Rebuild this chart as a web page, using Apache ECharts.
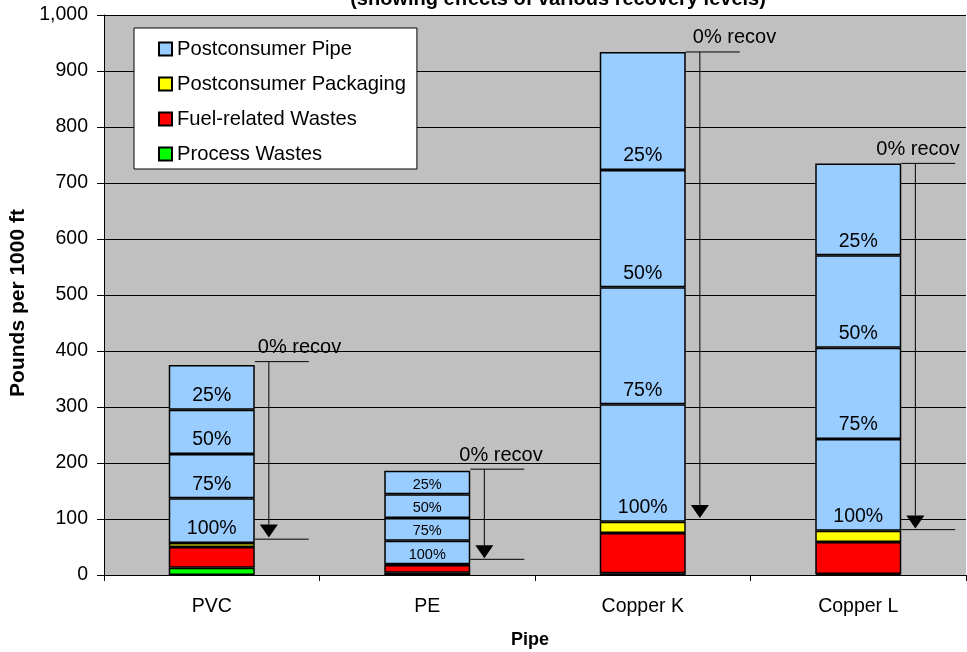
<!DOCTYPE html>
<html>
<head>
<meta charset="utf-8">
<script src="https://cdn.jsdelivr.net/npm/echarts@6/dist/echarts.min.js"></script>
<style>
html,body{margin:0;padding:0;background:#fff;}
#chart{width:967px;height:652px;}
</style>
</head>
<body>
<div id="chart"></div>
<script>
// ---- data ----
const categories = ['PVC', 'PE', 'Copper K', 'Copper L'];
const processWastes = [13, 4, 3, 2];
const fuelWastes = [37, 14, 72, 57];
const packaging = [7, 1, 20, 20];
// Postconsumer pipe split by recovery level (bottom to top)
const pipe100 = [80, 42, 210, 164];
const pipe75 = [79, 41, 209, 163];
const pipe50 = [79, 42, 209, 165];
const pipe25 = [80, 42, 211, 164];
const recovLabels = ['100%', '75%', '50%', '25%'];
// 0% recovery arrows
const arrowTop = [381, 189, 934, 735];
const arrowTip = [67, 30, 102, 83];
const baseLine = [64, 28, null, 81];
const yTicks = [0, 100, 200, 300, 400, 500, 600, 700, 800, 900, 1000];

// ---- layout / style ----
const FONT = '"Liberation Sans", Arial, sans-serif';
const FS = 19.5;
const recovTextShift = [3, -11, 7, -25]; // px, horizontal nudge of "0% recov" text

const chart = echarts.init(document.getElementById('chart'));

function pipeSeries(vals, lbl) {
  return {
    name: 'Postconsumer Pipe',
    type: 'bar',
    stack: 'total',
    barWidth: 86,
    itemStyle: { color: '#99ccff', borderColor: '#000', borderWidth: 1.5 },
    label: {
      show: true, position: 'insideBottom', distance: 4,
      formatter: lbl, color: '#000', fontSize: FS, fontFamily: FONT
    },
    data: vals.map((v, i) => i === 1 ? { value: v, label: { fontSize: 14.5, distance: 2 } } : v)
  };
}
function plainSeries(name, vals, color) {
  return {
    name: name, type: 'bar', stack: 'total', barWidth: 86,
    itemStyle: { color: color, borderColor: '#000', borderWidth: 1.5 },
    data: vals
  };
}

const arrowData = categories.map((c, i) => [i, arrowTop[i], arrowTip[i], baseLine[i] == null ? '-' : baseLine[i]]);

const option = {
  backgroundColor: '#fff',
  animation: false,
  textStyle: { fontFamily: FONT },
  graphic: [{
    type: 'text',
    x: 558, y: -1,
    style: {
      text: '(showing effects of various recovery levels)',
      align: 'center', verticalAlign: 'middle',
      fontSize: 20, fontWeight: 'bold', fontFamily: FONT, fill: '#000'
    }
  }],
  grid: {
    left: 104, right: 1, top: 15, bottom: 77, show: true,
    backgroundColor: '#c0c0c0', borderWidth: 0,
    containLabel: false, outerBoundsMode: 'none'
  },
  legend: {
    orient: 'vertical', left: 134, top: 28,
    data: ['Postconsumer Pipe', 'Postconsumer Packaging', 'Fuel-related Wastes', 'Process Wastes'],
    backgroundColor: '#fff', borderColor: '#000', borderWidth: 1,
    padding: [11, 11, 5, 24],
    itemWidth: 13, itemHeight: 13, itemGap: 15,
    icon: 'rect',
    textStyle: { fontSize: 20.2, fontFamily: FONT, color: '#000', lineHeight: 20 },
    selectedMode: false
  },
  xAxis: {
    type: 'category', data: categories,
    name: 'Pipe', nameLocation: 'middle', nameGap: 56,
    nameTextStyle: { fontSize: 18, fontWeight: 'bold', color: '#000', fontFamily: FONT, padding: [0, 10, 0, 0] },
    axisLine: { lineStyle: { color: '#000', width: 1 } },
    axisTick: { show: true, length: 6, lineStyle: { color: '#000' } },
    axisLabel: { color: '#000', fontSize: FS, fontFamily: FONT, margin: 22 }
  },
  yAxis: {
    type: 'value', min: 0, max: 1000, interval: 100,
    name: 'Pounds per 1000 ft', nameLocation: 'middle', nameGap: 74,
    nameTextStyle: { fontSize: 21, fontWeight: 'bold', color: '#000', fontFamily: FONT, padding: [0, 16, 0, 0] },
    axisLine: { show: true, lineStyle: { color: '#000', width: 1 } },
    axisTick: { show: true, length: 7, lineStyle: { color: '#000' } },
    axisLabel: {
      color: '#000', fontSize: FS, fontFamily: FONT, margin: 16,
      formatter: v => String(v).replace(/\B(?=(\d{3})+(?!\d))/g, ',')
    },
    splitLine: { show: true, lineStyle: { color: '#000', width: 1 } }
  },
  series: [
    plainSeries('Process Wastes', processWastes, '#00ff00'),
    plainSeries('Fuel-related Wastes', fuelWastes, '#ff0000'),
    plainSeries('Postconsumer Packaging', packaging, '#ffff00'),
    pipeSeries(pipe100, recovLabels[0]),
    pipeSeries(pipe75, recovLabels[1]),
    pipeSeries(pipe50, recovLabels[2]),
    pipeSeries(pipe25, recovLabels[3]),
    {
      type: 'custom',
      name: 'recov',
      silent: true,
      clip: false,
      encode: { x: 0, y: 1 },
      data: arrowData,
      renderItem: function (params, api) {
        const idx = api.value(0);
        const top = api.value(1), tip = api.value(2), base = api.value(3);
        const cw = api.size([1, 0])[0];
        const pTop = api.coord([idx, top]);
        const pTip = api.coord([idx, tip]);
        const cx = pTop[0];
        const ax = cx + cw * 0.265;
        const l0 = cx + cw * 0.2, l1 = cx + cw * 0.45;
        const headH = 13, headW = 9;
        const stroke = { stroke: '#000', lineWidth: 1 };
        const children = [
          { type: 'line', shape: { x1: l0, y1: pTop[1], x2: l1, y2: pTop[1] }, style: stroke },
          { type: 'line', shape: { x1: ax, y1: pTop[1], x2: ax, y2: pTip[1] - headH }, style: stroke },
          { type: 'polygon', shape: { points: [[ax - headW, pTip[1] - headH], [ax + headW, pTip[1] - headH], [ax, pTip[1]]] }, style: { fill: '#000' } },
          { type: 'text', x: l0 + recovTextShift[idx], y: pTop[1] - 4, style: { text: '0% recov', align: 'left', verticalAlign: 'bottom', fontSize: 20, fontFamily: FONT, fill: '#000' } }
        ];
        if (isFinite(base)) {
          const pB = api.coord([idx, base]);
          children.push({ type: 'line', shape: { x1: l0, y1: pB[1], x2: l1, y2: pB[1] }, style: stroke });
        }
        return { type: 'group', children: children };
      }
    }
  ]
};
chart.setOption(option);
</script>
</body>
</html>
